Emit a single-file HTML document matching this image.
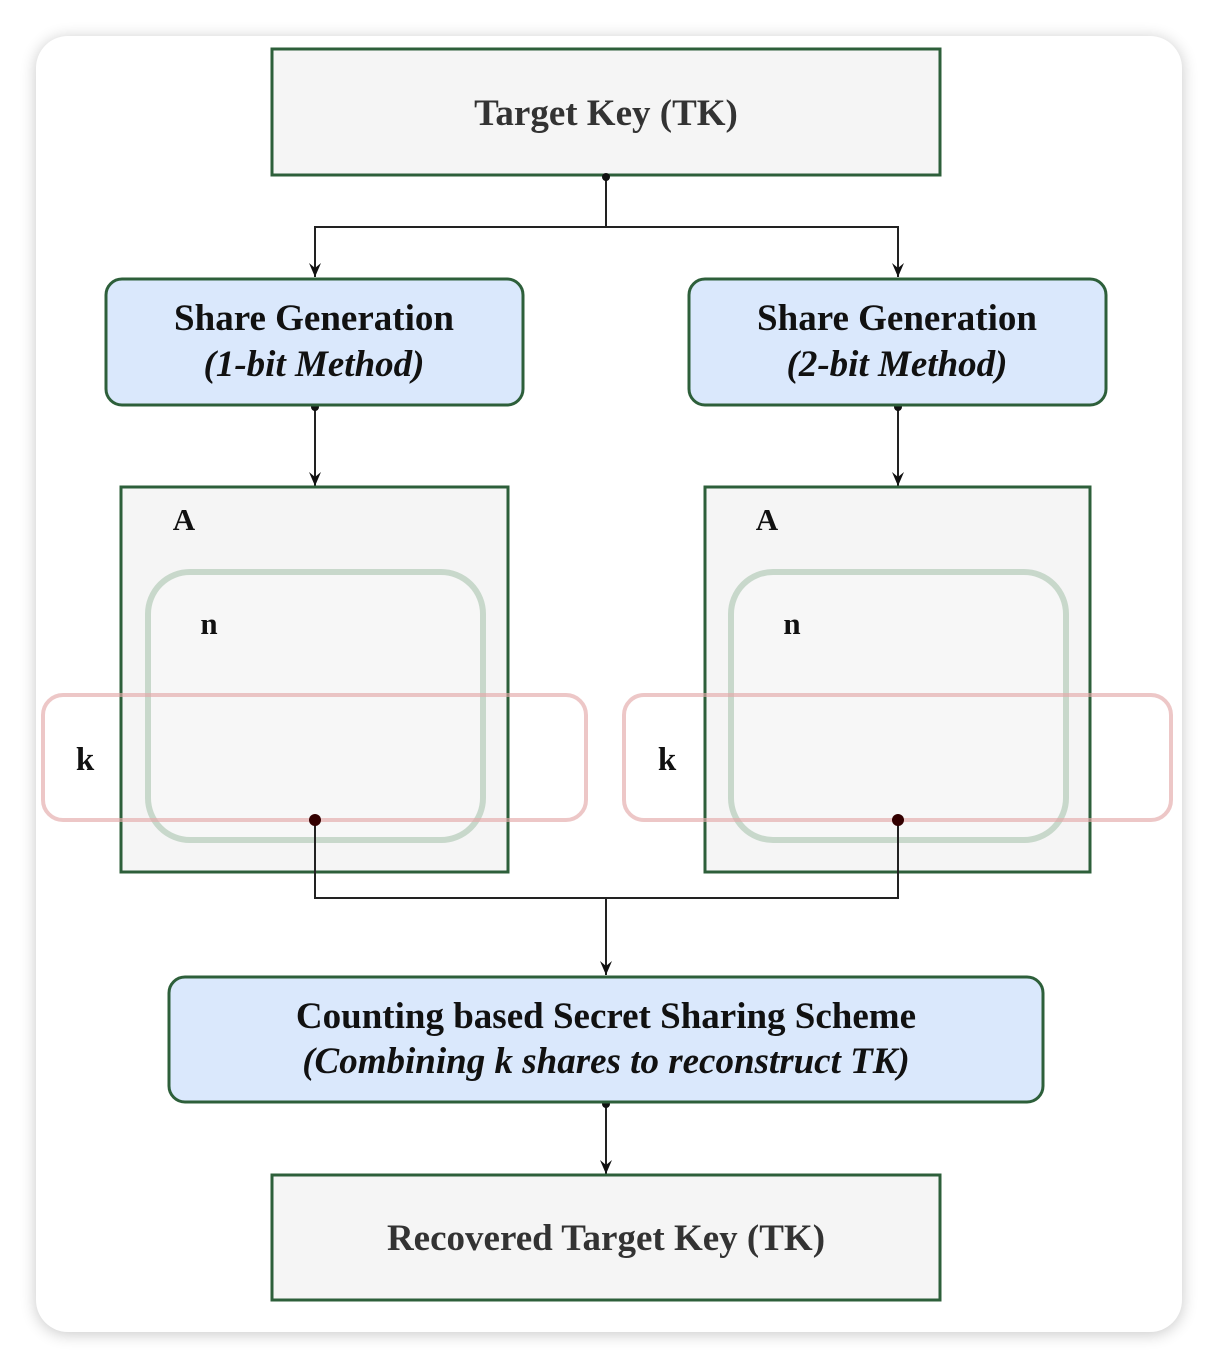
<!DOCTYPE html>
<html><head><style>
html,body{margin:0;padding:0;background:#fff;}
</style></head><body>
<svg width="1218" height="1368" xmlns="http://www.w3.org/2000/svg" style="display:block">
<defs>
<filter id="sh" x="-10%" y="-10%" width="120%" height="120%"><feGaussianBlur stdDeviation="8"/></filter>
<marker id="ar" markerWidth="14" markerHeight="12" refX="14" refY="6" orient="auto" markerUnits="userSpaceOnUse">
<path d="M0,0 L14,6 L0,12 L5,6 Z" fill="#111"/></marker>
</defs>
<rect x="36" y="38" width="1146" height="1296" rx="32" fill="#000" opacity="0.22" filter="url(#sh)"/>
<rect x="36" y="36" width="1146" height="1296" rx="32" fill="#fff"/>
<g font-family="Liberation Serif, serif" font-weight="bold" text-anchor="middle">
<rect x="272" y="49" width="668" height="126" fill="#f5f5f5" stroke="#2d5f3a" stroke-width="3"/>
<text x="606" y="125" font-size="37" fill="#333">Target Key (TK)</text>
<g fill="none" stroke="#222" stroke-width="2">
<path d="M606 177 V227 H315 V277" marker-end="url(#ar)"/>
<path d="M606 227 H898 V277" marker-end="url(#ar)"/>
<path d="M315 407 V486" marker-end="url(#ar)"/>
<path d="M898 407 V486" marker-end="url(#ar)"/>
<path d="M606 898 V975" marker-end="url(#ar)"/>
<path d="M606 1104 V1174" marker-end="url(#ar)"/>
</g>
<circle cx="606" cy="177" r="4" fill="#111"/>
<circle cx="315" cy="407" r="4" fill="#111"/>
<circle cx="898" cy="407" r="4" fill="#111"/>
<circle cx="606" cy="1104" r="4" fill="#111"/>
<rect x="106" y="279" width="417" height="126" rx="16" fill="#dae8fc" stroke="#2d5f3a" stroke-width="3"/>
<rect x="689" y="279" width="417" height="126" rx="16" fill="#dae8fc" stroke="#2d5f3a" stroke-width="3"/>
<text x="314" y="330" font-size="37" fill="#111">Share Generation</text>
<text x="314" y="376" font-size="37" fill="#111" font-style="italic">(1-bit Method)</text>
<text x="897" y="330" font-size="37" fill="#111">Share Generation</text>
<text x="897" y="376" font-size="37" fill="#111" font-style="italic">(2-bit Method)</text>
<rect x="121" y="487" width="387" height="385" fill="#f5f5f5" stroke="#2d5f3a" stroke-width="3"/>
<rect x="705" y="487" width="385" height="385" fill="#f5f5f5" stroke="#2d5f3a" stroke-width="3"/>
<text x="184" y="530" font-size="31" fill="#111">A</text>
<text x="767" y="530" font-size="31" fill="#111">A</text>
<rect x="148" y="572" width="335" height="268" rx="42" fill="#f8f8f8" stroke="#b9cfbd" stroke-width="6" opacity="0.75"/>
<rect x="731" y="572" width="335" height="268" rx="42" fill="#f8f8f8" stroke="#b9cfbd" stroke-width="6" opacity="0.75"/>
<text x="209" y="634" font-size="31" fill="#111">n</text>
<text x="792" y="634" font-size="31" fill="#111">n</text>
<rect x="43" y="695" width="543" height="125" rx="20" fill="none" stroke="#e3a9a9" stroke-width="4" opacity="0.65"/>
<rect x="624" y="695" width="547" height="125" rx="20" fill="none" stroke="#e3a9a9" stroke-width="4" opacity="0.65"/>
<text x="85" y="770" font-size="33" fill="#111">k</text>
<text x="667" y="770" font-size="33" fill="#111">k</text>
<path d="M315 820 V898 H898 V820" fill="none" stroke="#222" stroke-width="2"/>
<circle cx="315" cy="820" r="6" fill="#300"/>
<circle cx="898" cy="820" r="6" fill="#300"/>
<rect x="169" y="977" width="874" height="125" rx="16" fill="#dae8fc" stroke="#2d5f3a" stroke-width="3"/>
<text x="606" y="1028" font-size="37" fill="#111">Counting based Secret Sharing Scheme</text>
<text x="606" y="1073" font-size="37" fill="#111" font-style="italic">(Combining k shares to reconstruct TK)</text>
<rect x="272" y="1175" width="668" height="125" fill="#f5f5f5" stroke="#2d5f3a" stroke-width="3"/>
<text x="606" y="1250" font-size="37" fill="#333">Recovered Target Key (TK)</text>
</g>
</svg>
</body></html>
